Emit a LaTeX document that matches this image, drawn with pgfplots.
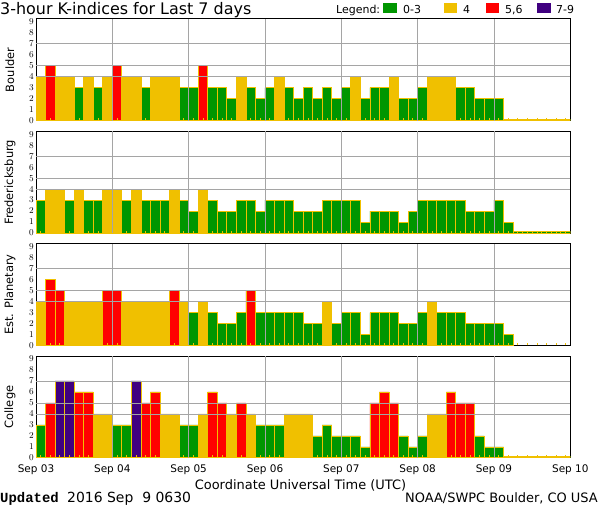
\documentclass[border=0pt]{standalone}
\usepackage{pgfplots}
\pgfplotsset{compat=1.18}
\usepackage{pgfplotstable}
\usepackage{fontspec}
\setmainfont{DejaVu Sans}
\newfontfamily\updfont{Liberation Mono}
\definecolor{kgreen}{RGB}{0,150,0}
\definecolor{kyellow}{RGB}{240,192,0}
\definecolor{kred}{RGB}{255,0,0}
\definecolor{kpurple}{RGB}{64,0,128}
\definecolor{kgrid}{RGB}{165,165,165}

\pgfplotstableread[row sep=\\]{
x k\\
0.5 4\\ 1.5 5\\ 2.5 4\\ 3.5 4\\ 4.5 3\\ 5.5 4\\ 6.5 3\\ 7.5 4\\
8.5 5\\ 9.5 4\\ 10.5 4\\ 11.5 3\\ 12.5 4\\ 13.5 4\\ 14.5 4\\ 15.5 3\\
16.5 3\\ 17.5 5\\ 18.5 3\\ 19.5 3\\ 20.5 2\\ 21.5 4\\ 22.5 3\\ 23.5 2\\
24.5 3\\ 25.5 4\\ 26.5 3\\ 27.5 2\\ 28.5 3\\ 29.5 2\\ 30.5 3\\ 31.5 2\\
32.5 3\\ 33.5 4\\ 34.5 2\\ 35.5 3\\ 36.5 3\\ 37.5 4\\ 38.5 2\\ 39.5 2\\
40.5 3\\ 41.5 4\\ 42.5 4\\ 43.5 4\\ 44.5 3\\ 45.5 3\\ 46.5 2\\ 47.5 2\\
48.5 2\\ 49.5 0.15\\ 50.5 0.15\\ 51.5 0.15\\ 52.5 0.15\\ 53.5 0.15\\ 54.5 0.15\\ 55.5 0.15\\
}\boulder

\pgfplotstableread[row sep=\\]{
x k\\
0.5 3\\ 1.5 4\\ 2.5 4\\ 3.5 3\\ 4.5 4\\ 5.5 3\\ 6.5 3\\ 7.5 4\\
8.5 4\\ 9.5 3\\ 10.5 4\\ 11.5 3\\ 12.5 3\\ 13.5 3\\ 14.5 4\\ 15.5 3\\
16.5 2\\ 17.5 4\\ 18.5 3\\ 19.5 2\\ 20.5 2\\ 21.5 3\\ 22.5 3\\ 23.5 2\\
24.5 3\\ 25.5 3\\ 26.5 3\\ 27.5 2\\ 28.5 2\\ 29.5 2\\ 30.5 3\\ 31.5 3\\
32.5 3\\ 33.5 3\\ 34.5 1\\ 35.5 2\\ 36.5 2\\ 37.5 2\\ 38.5 1\\ 39.5 2\\
40.5 3\\ 41.5 3\\ 42.5 3\\ 43.5 3\\ 44.5 3\\ 45.5 2\\ 46.5 2\\ 47.5 2\\
48.5 3\\ 49.5 1\\ 50.5 0.15\\ 51.5 0.15\\ 52.5 0.15\\ 53.5 0.15\\ 54.5 0.15\\ 55.5 0.15\\
}\fred

\pgfplotstableread[row sep=\\]{
x k\\
0.5 4\\ 1.5 6\\ 2.5 5\\ 3.5 4\\ 4.5 4\\ 5.5 4\\ 6.5 4\\ 7.5 5\\
8.5 5\\ 9.5 4\\ 10.5 4\\ 11.5 4\\ 12.5 4\\ 13.5 4\\ 14.5 5\\ 15.5 4\\
16.5 3\\ 17.5 4\\ 18.5 3\\ 19.5 2\\ 20.5 2\\ 21.5 3\\ 22.5 5\\ 23.5 3\\
24.5 3\\ 25.5 3\\ 26.5 3\\ 27.5 3\\ 28.5 2\\ 29.5 2\\ 30.5 4\\ 31.5 2\\
32.5 3\\ 33.5 3\\ 34.5 1\\ 35.5 3\\ 36.5 3\\ 37.5 3\\ 38.5 2\\ 39.5 2\\
40.5 3\\ 41.5 4\\ 42.5 3\\ 43.5 3\\ 44.5 3\\ 45.5 2\\ 46.5 2\\ 47.5 2\\
48.5 2\\ 49.5 1\\
}\est

\pgfplotstableread[row sep=\\]{
x k\\
0.5 3\\ 1.5 5\\ 2.5 7\\ 3.5 7\\ 4.5 6\\ 5.5 6\\ 6.5 4\\ 7.5 4\\
8.5 3\\ 9.5 3\\ 10.5 7\\ 11.5 5\\ 12.5 6\\ 13.5 4\\ 14.5 4\\ 15.5 3\\
16.5 3\\ 17.5 4\\ 18.5 6\\ 19.5 5\\ 20.5 4\\ 21.5 5\\ 22.5 4\\ 23.5 3\\
24.5 3\\ 25.5 3\\ 26.5 4\\ 27.5 4\\ 28.5 4\\ 29.5 2\\ 30.5 3\\ 31.5 2\\
32.5 2\\ 33.5 2\\ 34.5 1\\ 35.5 5\\ 36.5 6\\ 37.5 5\\ 38.5 2\\ 39.5 1\\
40.5 2\\ 41.5 4\\ 42.5 4\\ 43.5 6\\ 44.5 5\\ 45.5 5\\ 46.5 2\\ 47.5 1\\
48.5 1\\ 49.5 0.15\\ 50.5 0.15\\ 51.5 0.15\\ 52.5 0.15\\ 53.5 0.15\\ 54.5 0.15\\ 55.5 0.15\\
}\college

\pgfplotsset{
  kpanel/.style={
    at={(36bp,#1)}, anchor=south west,
    scale only axis, width=534.3bp, height=101.7bp,
    xmin=0, xmax=56, ymin=0, ymax=9.25,
    axis line style={line width=1bp, black},
    xtick={0,8,...,56}, xticklabels={},
    xtick pos=bottom, ytick pos=left,
    major tick length=0pt,
    ytick={0,...,9},
    yticklabel style={font=\fontsize{9}{9}\selectfont, inner sep=2bp},
    every axis y label/.style={at={(rel axis cs:-0.0487,0.5)}, rotate=90, anchor=center, font=\fontsize{11.5}{12}\selectfont},
  },
  kbar/.style={ybar, bar width=1, bar shift=0pt, fill=#1, draw=kyellow, line width=0.8bp},
}

% grid lines and small yellow tick marks drawn over the bars
\newcommand{\koverlay}{%
  \pgfplotsinvokeforeach{8,16,24,32,40,48}{\draw[kgrid, line width=0.8bp] (axis cs:##1,0) -- (axis cs:##1,9.25);}
  \pgfplotsinvokeforeach{4,5,7}{\draw[kgrid, line width=0.8bp] (axis cs:0,##1) -- (axis cs:56,##1);}
  \pgfplotsinvokeforeach{0.5,1.5,...,55.5}{\draw[kyellow, line width=0.8bp] (axis cs:##1,0) -- ++(0,2.5bp);}
}

\begin{document}
\begin{tikzpicture}[x=1bp,y=1bp]
\useasboundingbox (0,0) rectangle (600,510);

% title and legend
\node[anchor=base west, inner sep=0, font=\fontsize{16}{16}\selectfont] at (0,495) {3-hour K-indices for Last 7 days};
\node[anchor=base west, inner sep=0, font=\fontsize{11}{11}\selectfont] at (336,496.7) {Legend:};
\fill[kgreen] (383.3,496.7) rectangle (396.7,506.7);
\node[anchor=base west, inner sep=0, font=\fontsize{11}{11}\selectfont] at (403,496.7) {0-3};
\fill[kyellow] (444,496.7) rectangle (457.3,506.7);
\node[anchor=base west, inner sep=0, font=\fontsize{11}{11}\selectfont] at (463,496.7) {4};
\fill[kred] (486,496.7) rectangle (499.3,506.7);
\node[anchor=base west, inner sep=0, font=\fontsize{11}{11}\selectfont] at (505,496.7) {5,6};
\fill[kpurple] (537.3,496.7) rectangle (550.7,506.7);
\node[anchor=base west, inner sep=0, font=\fontsize{11}{11}\selectfont] at (556,496.7) {7-9};

\begin{axis}[kpanel=389.3bp, ylabel={Boulder}]
\addplot[kbar=kgreen, restrict y to domain=0:3.5] table[x=x,y=k]{\boulder};
\addplot[kbar=kyellow, restrict y to domain=3.5:4.5] table[x=x,y=k]{\boulder};
\addplot[kbar=kred, restrict y to domain=4.5:6.5] table[x=x,y=k]{\boulder};
\koverlay
\end{axis}

\begin{axis}[kpanel=276.9bp, ylabel={Fredericksburg}]
\addplot[kbar=kgreen, restrict y to domain=0:3.5] table[x=x,y=k]{\fred};
\addplot[kbar=kyellow, restrict y to domain=3.5:4.5] table[x=x,y=k]{\fred};
\koverlay
\end{axis}

\begin{axis}[kpanel=164.5bp, ylabel={Est. Planetary}]
\addplot[kbar=kgreen, restrict y to domain=0:3.5] table[x=x,y=k]{\est};
\addplot[kbar=kyellow, restrict y to domain=3.5:4.5] table[x=x,y=k]{\est};
\addplot[kbar=kred, restrict y to domain=4.5:6.5] table[x=x,y=k]{\est};
\koverlay
\end{axis}

\begin{axis}[kpanel=52.1bp, ylabel={College},
  xticklabels={Sep 03,Sep 04,Sep 05,Sep 06,Sep 07,Sep 08,Sep 09,Sep 10},
  xticklabel style={font=\fontsize{10.5}{11}\selectfont, yshift=-3bp}]
\addplot[kbar=kgreen, restrict y to domain=0:3.5] table[x=x,y=k]{\college};
\addplot[kbar=kyellow, restrict y to domain=3.5:4.5] table[x=x,y=k]{\college};
\addplot[kbar=kred, restrict y to domain=4.5:6.5] table[x=x,y=k]{\college};
\addplot[kbar=kpurple, restrict y to domain=6.5:9.5] table[x=x,y=k]{\college};
\koverlay
\end{axis}

\node[anchor=base, inner sep=0, font=\fontsize{13}{13}\selectfont] at (300.5,20.7) {Coordinate Universal Time (UTC)};
\node[anchor=base west, inner sep=0, font=\updfont\bfseries\fontsize{14}{14}\selectfont] at (0,7) {Updated};
\node[anchor=base west, inner sep=0, font=\fontsize{14}{14}\selectfont] at (67,7) {2016 Sep~~9 0630};
\node[anchor=base east, inner sep=0, font=\fontsize{13}{13}\selectfont] at (598,7) {NOAA/SWPC Boulder, CO USA};
\end{tikzpicture}
\end{document}
